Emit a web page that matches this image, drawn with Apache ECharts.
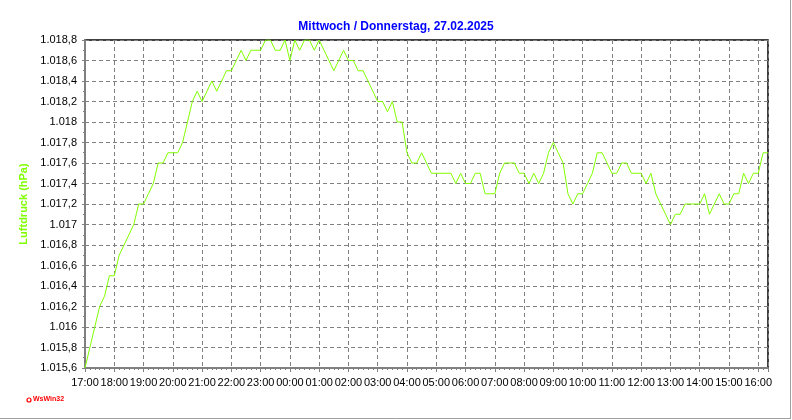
<!DOCTYPE html>
<html>
<head>
<meta charset="utf-8">
<script src="https://cdn.jsdelivr.net/npm/echarts@6/dist/echarts.min.js"></script>
<style>
html,body{margin:0;padding:0;background:#fff;}
#chart{width:792px;height:420px;}
</style>
</head>
<body>
<div id="chart"></div>
<script>
const titleText = "Mittwoch / Donnerstag, 27.02.2025";
const yAxisName = "Luftdruck (hPa)";
const startHour = 17;
const sampleMinutes = 10;
const hourLabels = ["17:00","18:00","19:00","20:00","21:00","22:00","23:00","00:00","01:00","02:00","03:00","04:00",
  "05:00","06:00","07:00","08:00","09:00","10:00","11:00","12:00","13:00","14:00","15:00","16:00"];
const pressure = [
  1015.6,1015.8,1016.0,1016.2,1016.3,1016.5,1016.5,1016.7,1016.8,1016.9,
  1017.0,1017.2,1017.2,1017.3,1017.4,1017.6,1017.6,1017.7,1017.7,1017.7,
  1017.8,1018.0,1018.2,1018.3,1018.2,1018.3,1018.4,1018.3,1018.4,1018.5,
  1018.5,1018.6,1018.7,1018.6,1018.7,1018.7,1018.7,1018.8,1018.8,1018.7,
  1018.7,1018.8,1018.6,1018.8,1018.7,1018.8,1018.8,1018.7,1018.8,1018.7,
  1018.6,1018.5,1018.6,1018.7,1018.6,1018.6,1018.5,1018.5,1018.4,1018.3,
  1018.2,1018.2,1018.1,1018.2,1018.0,1018.0,1017.7,1017.6,1017.6,1017.7,
  1017.6,1017.5,1017.5,1017.5,1017.5,1017.5,1017.4,1017.5,1017.4,1017.4,
  1017.5,1017.5,1017.3,1017.3,1017.3,1017.5,1017.6,1017.6,1017.6,1017.5,
  1017.5,1017.4,1017.5,1017.4,1017.5,1017.7,1017.8,1017.7,1017.6,1017.3,
  1017.2,1017.3,1017.3,1017.4,1017.5,1017.7,1017.7,1017.6,1017.5,1017.5,
  1017.6,1017.6,1017.5,1017.5,1017.5,1017.4,1017.5,1017.3,1017.2,1017.1,
  1017.0,1017.1,1017.1,1017.2,1017.2,1017.2,1017.2,1017.3,1017.1,1017.2,
  1017.3,1017.2,1017.2,1017.3,1017.3,1017.5,1017.4,1017.5,1017.5,1017.7,
  1017.7
];
const yMin = 1015.6, yMax = 1018.8, yStep = 0.2;

const seriesData = pressure.map((v, i) => [i * sampleMinutes, v]);
const xMax = (pressure.length - 1) * sampleMinutes;

function fmtDe(v) {
  let s = (Math.round(v * 10) / 10).toFixed(1);
  let [ip, dp] = s.split('.');
  ip = ip.replace(/\B(?=(\d{3})+(?!\d))/g, '.');
  return dp === '0' ? ip : ip + ',' + dp;
}

const chart = echarts.init(document.getElementById('chart'), null, {renderer: 'canvas'});
const font = "'Liberation Sans', Arial, sans-serif";
chart.setOption({
  animation: false,
  backgroundColor: '#ffffff',
  title: {
    text: titleText,
    left: 'center',
    top: 16,
    textStyle: {
      color: '#0000ff', fontSize: 12, fontWeight: 'bold',
      fontFamily: "'Liberation Sans Narrow', 'Arial Narrow', 'Liberation Sans', sans-serif"
    }
  },
  grid: {
    left: 85, top: 40, right: 24, bottom: 52,
    show: true, borderColor: '#000000', borderWidth: 1.5
  },
  xAxis: {
    type: 'value',
    min: 0, max: xMax, interval: 60,
    axisLine: {show: true, lineStyle: {color: '#808080', width: 2}},
    axisTick: {show: true, length: 4, lineStyle: {color: '#808080', width: 1}},
    minorTick: {show: true, splitNumber: 6, length: 2, lineStyle: {color: '#808080', width: 1}},
    axisLabel: {
      color: '#000', fontSize: 11, fontFamily: font, margin: 9,
      showMaxLabel: false,
      formatter: function (v) {
        if (v % 60 !== 0) return '';
        const k = v / 60;
        return hourLabels[k] !== undefined ? hourLabels[k] : '';
      }
    },
    splitLine: {show: true, lineStyle: {color: '#808080', width: 1, type: [4, 3]}}
  },
  yAxis: {
    type: 'value',
    min: yMin, max: yMax, interval: yStep,
    name: yAxisName,
    nameLocation: 'middle',
    nameRotate: 90,
    nameGap: 55,
    nameTextStyle: {color: '#80ff00', fontSize: 11, fontWeight: 'bold', fontFamily: font},
    axisLine: {show: true, lineStyle: {color: '#808080', width: 2}},
    axisTick: {show: true, length: 3, lineStyle: {color: '#808080', width: 1}},
    minorTick: {show: true, splitNumber: 2, length: 2, lineStyle: {color: '#808080', width: 1}},
    axisLabel: {color: '#000', fontSize: 11, fontFamily: font, margin: 8, formatter: fmtDe},
    splitLine: {show: true, lineStyle: {color: '#808080', width: 1, type: [4, 3]}}
  },
  series: [{
    type: 'line',
    data: seriesData,
    showSymbol: false,
    symbol: 'none',
    lineStyle: {color: '#80ff00', width: 1},
    clip: true
  }],
  graphic: [
    {type: 'line', shape: {x1: 790.5, y1: 0, x2: 790.5, y2: 419}, style: {stroke: '#a0a0a0', lineWidth: 1}},
    {type: 'line', shape: {x1: 0, y1: 418.5, x2: 791, y2: 418.5}, style: {stroke: '#a0a0a0', lineWidth: 1}},
    {type: 'circle', shape: {cx: 29, cy: 400, r: 2}, style: {fill: 'none', stroke: '#ff0000', lineWidth: 1.2}},
    {type: 'text', left: 33, top: 396, style: {text: 'WsWin32', fill: '#ff0000', font: "bold 7px 'Liberation Sans', Arial, sans-serif"}}
  ]
});
</script>
</body>
</html>
